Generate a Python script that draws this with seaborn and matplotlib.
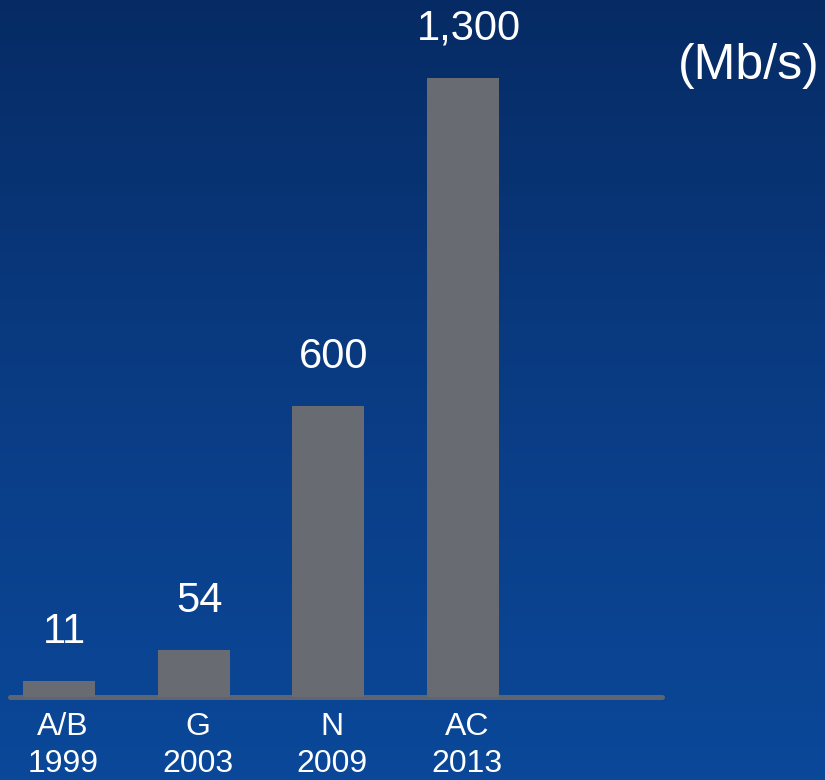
import numpy as np
import pandas as pd
import seaborn as sns
import matplotlib.pyplot as plt
from matplotlib.colors import LinearSegmentedColormap
from matplotlib.transforms import ScaledTranslation

# Wi-Fi standards: max speed in Mb/s
standards = ['A/B', 'G', 'N', 'AC']
years = ['1999', '2003', '2009', '2013']
speeds = [11, 54, 600, 1300]
speed_labels = ['11', '54', '600', '1,300']
# bar heights as drawn on the slide (not to scale for the small ones)
bar_heights = [33, 98, 610, 1300]

df = pd.DataFrame({
    'standard': [f'{s}\n{y}' for s, y in zip(standards, years)],
    'height': bar_heights,
    'label': speed_labels,
})

sns.set_theme(style='white', rc={'axes.facecolor': 'none', 'figure.facecolor': '#0a3d85'})
plt.rcParams['font.family'] = ['Liberation Sans', 'DejaVu Sans']

fig = plt.figure(figsize=(8.25, 7.8), dpi=100)

# background gradient
bg = fig.add_axes([0, 0, 1, 1], zorder=-1)
cmap = LinearSegmentedColormap.from_list('slide', ['#062b64', '#0a3c84', '#0a4899'])
bg.imshow(np.linspace(0, 1, 256).reshape(-1, 1), cmap=cmap, aspect='auto',
          extent=(0, 1, 0, 1), origin='upper')
bg.axis('off')

ax = fig.add_axes([10 / 825, 83.5 / 780, 652 / 825, 696.5 / 780])
ax.axhline(0, color='#5e6570', lw=3.6, zorder=1, clip_on=False)
sns.barplot(data=df, x='standard', y='height', color='#686b72', width=0.535,
            saturation=1, linewidth=0, ax=ax, zorder=2)

ax.set_xlim(-0.364, 4.478)
ax.set_ylim(0, 1464)
ax.set_xlabel('')
ax.set_ylabel('')
ax.set_yticks([])
ax.tick_params(axis='x', length=0, pad=11, labelsize=23, labelcolor='white')
shift = ScaledTranslation(4 / 100, 0, fig.dpi_scale_trans)
for lab in ax.get_xticklabels():
    lab.set_linespacing(1.32)
    lab.set_transform(lab.get_transform() + shift)
for s in ax.spines.values():
    s.set_visible(False)

for i, row in df.iterrows():
    ax.annotate(row['label'], (i, row['height']), xytext=(4, 21),
                textcoords='offset points', ha='center', va='bottom',
                fontsize=30, color='white', annotation_clip=False)

fig.text(678 / 825, 0.915, '(Mb/s)', ha='left', va='center', fontsize=36, color='white')

fig.savefig('out.png', dpi=100)
